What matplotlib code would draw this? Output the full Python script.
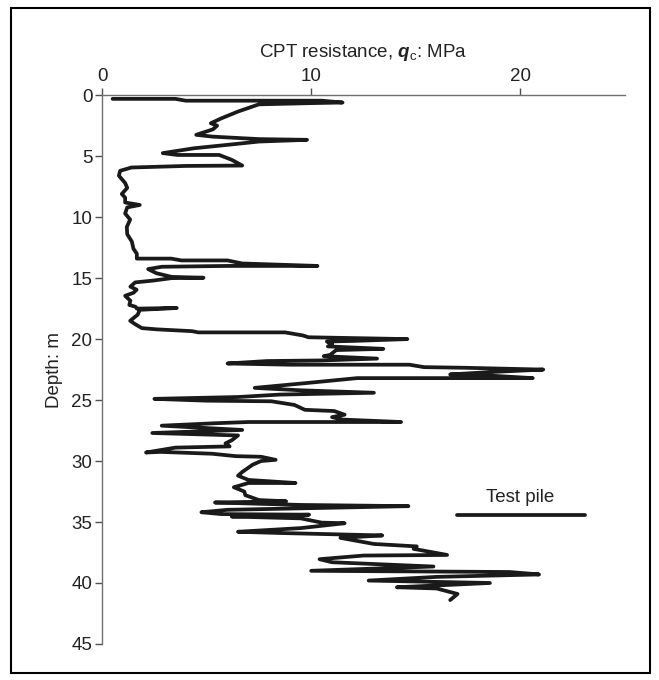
import matplotlib
matplotlib.use("Agg")
import matplotlib.pyplot as plt
from matplotlib.patches import Rectangle
from matplotlib.lines import Line2D

plt.rcParams['font.family'] = ['Liberation Sans', 'DejaVu Sans']
plt.rcParams['mathtext.fontset'] = 'custom'
plt.rcParams['mathtext.rm'] = 'Liberation Sans'
plt.rcParams['mathtext.it'] = 'Liberation Sans:italic'
plt.rcParams['mathtext.bf'] = 'Liberation Sans:bold:italic'

# CPT trace: cone resistance qc (MPa) vs depth (m)
qc = [0.5, 3.5, 4.0, 10.5, 11.5, 10.0, 7.5,
      6.5, 5.7, 5.2, 5.5, 5.3, 4.5, 5.3, 7.5, 9.8, 7.5, 6.4, 4.4, 2.9, 3.6, 5.6, 6.2, 6.7, 4.0, 1.4, 0.86, 0.8,
      1.1, 1.2, 0.94, 1.1, 1.1, 1.8, 1.2, 1.1, 1.34, 1.18, 1.2, 1.42, 1.5, 1.66, 1.66, 3.3, 3.8, 6.0, 6.7,
      10.3, 6.0, 2.85, 2.2, 2.6, 3.33, 4.85, 3.33, 2.45, 1.58, 1.35, 1.65, 1.5, 1.1, 1.35, 1.3, 1.6, 1.66,
      3.57, 1.8, 1.7, 1.34, 1.6, 1.9, 2.6, 4.3, 4.6, 8.75, 9.6, 9.87, 11.5, 14.6, 12.0, 10.75, 11.0, 10.8,
      13.45, 11.2, 10.9, 10.6, 13.15, 10.5, 7.9, 6.0, 9.0, 14.7, 15.4, 17.3, 21.1, 18.6, 16.65, 18.6, 20.6,
      12.2, 10.4, 9.8, 7.3, 9.5, 13.0, 8.5, 6.5, 2.5, 5.0, 8.1, 9.2, 9.7, 11.1, 11.6, 11.0, 11.5, 14.3, 7.0,
      5.4, 2.85, 6.7, 2.4, 6.5, 6.2, 5.9, 6.1, 3.5, 2.1, 2.8, 5.25, 6.4, 7.6, 8.3, 7.6, 7.2, 6.7, 6.5, 7.0,
      9.25, 7.0, 6.3, 6.8, 6.85, 7.5, 8.8, 5.4, 9.5, 14.65, 9.0, 6.0, 4.75, 5.7, 9.9, 6.2, 9.5, 10.5, 11.6,
      9.5, 6.5, 8.5, 11.0, 13.4, 11.4, 13.0, 14.0, 15.05, 14.9, 16.5, 12.5, 10.4, 11.0, 15.85, 10.0, 19.5,
      20.9, 16.0, 12.75, 18.55, 14.1, 16.0, 17.0, 16.65]
depth = [0.3, 0.3, 0.45, 0.45, 0.6, 0.65, 0.75,
         1.34, 1.9, 2.3, 2.5, 2.8, 3.25, 3.4, 3.6, 3.66, 3.8, 4.0, 4.35, 4.75, 4.9, 4.9, 5.3, 5.77, 5.8, 5.93, 6.2, 6.6,
         7.2, 7.6, 8.1, 8.4, 8.8, 9.0, 9.2, 9.7, 10.2, 10.8, 11.4, 12.0, 12.6, 13.0, 13.4, 13.4, 13.55, 13.55, 13.8,
         14.0, 14.0, 14.07, 14.26, 14.6, 14.9, 14.97, 15.0, 15.2, 15.35, 15.7, 15.95, 16.2, 16.45, 16.85, 17.2, 17.35, 17.5,
         17.45, 17.6, 18.0, 18.5, 18.8, 19.1, 19.2, 19.35, 19.45, 19.45, 19.7, 19.85, 19.9, 20.0, 20.15, 20.2, 20.4, 20.6,
         20.8, 20.9, 21.3, 21.4, 21.6, 21.75, 21.8, 22.0, 22.1, 22.1, 22.3, 22.35, 22.5, 22.7, 22.9, 23.0, 23.2,
         23.2, 23.5, 23.6, 24.0, 24.2, 24.4, 24.55, 24.75, 24.9, 25.05, 25.1, 25.4, 25.8, 25.9, 26.2, 26.4, 26.6, 26.8, 26.8,
         26.9, 27.1, 27.45, 27.7, 27.9, 28.3, 28.55, 28.8, 28.9, 29.3, 29.25, 29.4, 29.6, 29.65, 29.9, 30.0, 30.3, 30.9, 31.2, 31.55,
         31.8, 31.8, 32.15, 32.5, 32.8, 33.2, 33.3, 33.4, 33.6, 33.7, 33.9, 34.0, 34.2, 34.35, 34.4, 34.55, 34.7, 35.05, 35.1,
         35.5, 35.8, 35.9, 36.0, 36.1, 36.3, 36.8, 36.9, 37.0, 37.2, 37.7, 37.75, 38.05, 38.3, 38.65, 39.0, 39.1,
         39.3, 39.5, 39.8, 40.0, 40.35, 40.45, 40.9, 41.4]

x_ticks = [0, 10, 20]
y_ticks = [0, 5, 10, 15, 20, 25, 30, 35, 40, 45]
legend_label = "Test pile"

fig = plt.figure(figsize=(6.59, 6.80), dpi=100)
ax = fig.add_axes([0.155, 0.053, 0.793, 0.807])

line_color = '#1a1a1a'
ax.plot(qc, depth, color=line_color, lw=2.7, solid_joinstyle='round', solid_capstyle='round')

fs = 13.5
ax.set_xlim(0, 25)
ax.set_ylim(45, 0)
ax.xaxis.tick_top()
ax.xaxis.set_label_position('top')
ax.set_xticks(x_ticks)
ax.set_yticks(y_ticks)
ax.spines['right'].set_visible(False)
ax.spines['bottom'].set_visible(False)
for s in ['top', 'left']:
    ax.spines[s].set_color('#707070')
    ax.spines[s].set_linewidth(1.0)
ax.tick_params(axis='both', which='major', labelsize=fs, color='#505050', length=5,
               width=1.0, labelcolor='#222222', direction='out')
ax.tick_params(axis='x', pad=2)
ax.tick_params(axis='y', pad=2)
ax.set_xlabel(r"CPT resistance, $\mathbf{q}_{\mathrm{c}}$: MPa", fontsize=fs,
              color='#222222', labelpad=8)
ax.set_ylabel("Depth: m", fontsize=fs, color='#222222', labelpad=6)

# Legend-like annotation (axes-fraction coordinates)
ax.add_line(Line2D([0.679, 0.924], [0.235, 0.235], transform=ax.transAxes,
                   color=line_color, lw=2.7, solid_capstyle='round'))
ax.text(0.80, 0.252, legend_label, transform=ax.transAxes, ha='center', va='bottom',
        fontsize=fs, color='#222222')

# Figure border
fig.patches.append(Rectangle((11 / 659, 1 - 673 / 680), 639 / 659, 665 / 680,
                             transform=fig.transFigure, fill=False,
                             edgecolor='black', lw=1.5))

fig.savefig("out.png", dpi=100)
